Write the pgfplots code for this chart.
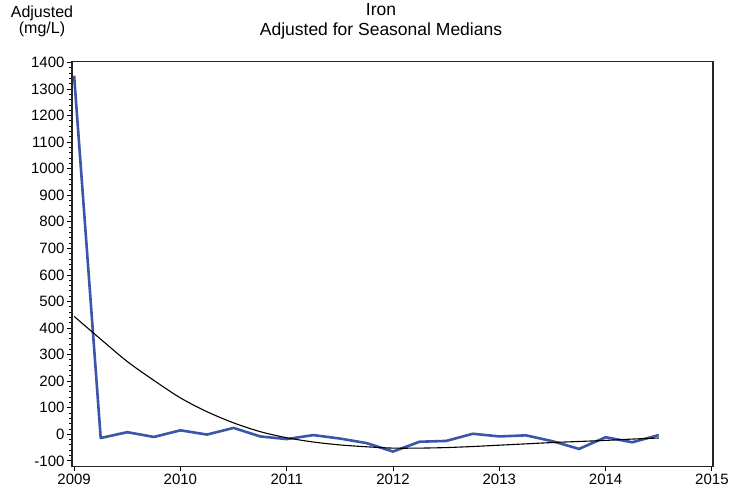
\documentclass[border=0pt]{standalone}
\usepackage{pgfplots}
\pgfplotsset{compat=1.18}
\usepackage{fontspec}
\setmainfont{Liberation Sans}
\definecolor{ironblue}{RGB}{58,85,170}
\begin{document}
\begin{tikzpicture}[x=1pt,y=1pt]
\begin{axis}[
  scale only axis,
  width=641pt, height=405pt,
  xmin=2008.98, xmax=2015.01,
  ymin=-120, ymax=1405,
  xtick={2009,2010,...,2015},
  ytick={-100,0,...,1400},
  minor y tick num=4,
  tick pos=left,
  tick align=outside,
  major tick length=5pt,
  minor tick length=3pt,
  axis line style={line width=1.3pt, draw=black!85},
  every tick/.style={black, line width=0.9pt},
  /pgf/number format/1000 sep={},
  /pgf/number format/assume math mode=true,
  tick label style={font=\fontsize{15}{17}\selectfont},
  yticklabel style={xshift=1pt},
  xticklabel style={yshift=1pt},
  clip=false,
]
\addplot[ironblue, line width=2.6pt, line join=round] coordinates {
(2009.00,1350) (2009.25,-14) (2009.50,8) (2009.75,-10) (2010.00,15)
(2010.25,-1) (2010.50,24) (2010.75,-8) (2011.00,-18) (2011.25,-3)
(2011.50,-16) (2011.75,-33) (2012.00,-65) (2012.25,-28) (2012.50,-25)
(2012.75,2) (2013.00,-8) (2013.25,-4) (2013.50,-26) (2013.75,-55)
(2014.00,-11) (2014.25,-30) (2014.50,-3)
};
\addplot[black, line width=1.1pt, smooth] coordinates {
(2009.00,444) (2009.25,358) (2009.50,274) (2009.75,203) (2010.00,137)
(2010.25,85) (2010.50,43) (2010.75,10) (2011.00,-13) (2011.25,-29)
(2011.50,-40) (2011.75,-47) (2012.00,-52) (2012.25,-52) (2012.50,-50)
(2012.75,-46) (2013.00,-41) (2013.25,-36) (2013.50,-31) (2013.75,-27)
(2014.00,-23) (2014.25,-18) (2014.50,-14)
};
\end{axis}
\path (-72,-28) rectangle ++(744,492);
\node[align=center, font=\fontsize{17.5}{20}\selectfont] at (309,445) {Iron\\Adjusted for Seasonal Medians};
\node[align=center, font=\fontsize{16}{16}\selectfont] at (-30,445) {Adjusted\\(mg/L)};
\end{tikzpicture}
\end{document}
